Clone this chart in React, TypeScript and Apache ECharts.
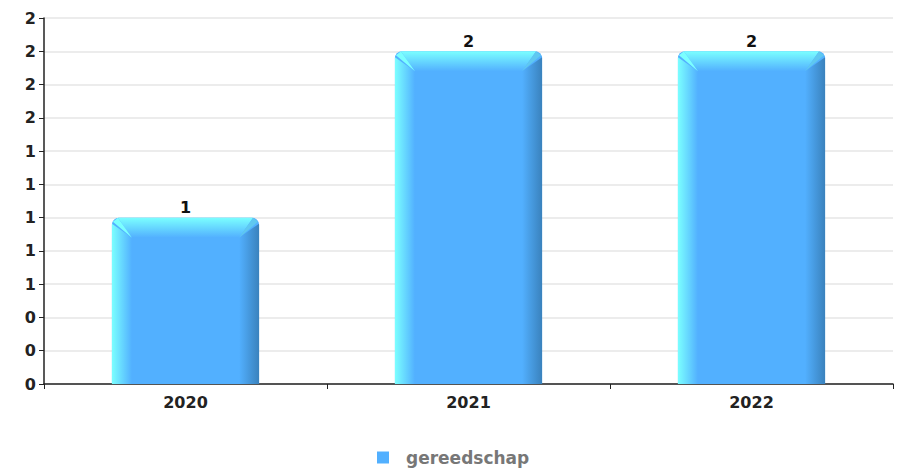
import React, { useEffect, useRef } from "react";
import * as echarts from "echarts";

const categories = ["2020", "2021", "2022"];
const values = [1, 2, 2];
const seriesName = "gereedschap";

export default function App() {
  const ref = useRef<HTMLDivElement>(null);
  useEffect(() => {
    document.body.style.margin = "0";
    const chart = echarts.init(ref.current!, null, { renderer: "svg" });
    const base = "#52b0ff";
    const cyan = "#7bffff";
    const dark = "#3a82bd";
    const font = "DejaVu Sans";
    chart.setOption({
      animation: false,
      grid: { left: 44, right: 8, top: 18, bottom: 87 },
      legend: {
        bottom: 0,
        left: 372,
        data: [{ name: seriesName, icon: "rect" }],
        itemWidth: 12,
        itemHeight: 12,
        itemGap: 8,
        textStyle: {
          fontFamily: font,
          fontWeight: "bold",
          fontSize: 17,
          color: "#777",
          padding: [0, 0, 0, 12],
        },
      },
      xAxis: {
        type: "category",
        data: categories,
        boundaryGap: true,
        axisLine: { lineStyle: { color: "#222", width: 1.5 } },
        axisTick: { show: true, length: 5, lineStyle: { color: "#222" } },
        axisLabel: { fontFamily: font, fontWeight: "bold", fontSize: 16, color: "#222", margin: 10 },
        splitLine: { show: false },
      },
      yAxis: {
        type: "value",
        min: 0,
        max: 2.2,
        interval: 0.2,
        axisLine: { show: true, lineStyle: { color: "#222", width: 1.5 } },
        axisTick: { show: true, length: 5, lineStyle: { color: "#222" } },
        axisLabel: {
          fontFamily: font,
          fontWeight: "bold",
          fontSize: 16,
          color: "#222",
          margin: 8,
          formatter: (v: number) => String(Math.round(v)),
        },
        splitLine: { show: true, lineStyle: { color: "#e6e6e6", width: 1.5 } },
      },
      series: [
        {
          type: "custom",
          name: seriesName,
          itemStyle: { color: base },
          data: values.map((v, i) => [i, v]),
          encode: { x: 0, y: 1 },
          renderItem: (params: any, api: any) => {
            const idx = api.value(0);
            const val = api.value(1);
            const top = api.coord([idx, val]);
            const bot = api.coord([idx, 0]);
            const w = api.size([1, 0])[0] * 0.52;
            const x0 = top[0] - w / 2;
            const x1 = top[0] + w / 2;
            const y0 = top[1];
            const y1 = bot[1];
            const b = 20;
            return {
              type: "group",
              children: [
                {
                  type: "rect",
                  shape: { x: x0, y: y0, width: w, height: y1 - y0, r: [7, 7, 0, 0] },
                  style: { fill: base },
                },
                {
                  type: "polygon",
                  shape: { points: [[x0, y0 + 6], [x0 + b, y0 + b], [x0 + b, y1], [x0, y1]] },
                  style: {
                    fill: new echarts.graphic.LinearGradient(0, 0, 1, 0, [
                      { offset: 0, color: cyan },
                      { offset: 1, color: base },
                    ]),
                  },
                },
                {
                  type: "polygon",
                  shape: { points: [[x1, y0 + 6], [x1, y1], [x1 - b, y1], [x1 - b, y0 + b]] },
                  style: {
                    fill: new echarts.graphic.LinearGradient(0, 0, 1, 0, [
                      { offset: 0, color: base },
                      { offset: 1, color: dark },
                    ]),
                  },
                },
                {
                  type: "polygon",
                  shape: { points: [[x0 + 6, y0], [x1 - 6, y0], [x1 - b, y0 + b], [x0 + b, y0 + b]] },
                  style: {
                    fill: new echarts.graphic.LinearGradient(0, 0, 0, 1, [
                      { offset: 0, color: cyan },
                      { offset: 1, color: base },
                    ]),
                  },
                },
                {
                  type: "polygon",
                  shape: { points: [[x0 + 1, y0 + 4], [x0 + 6, y0], [x0 + b, y0 + b]] },
                  style: { fill: cyan },
                },
                {
                  type: "polygon",
                  shape: { points: [[x1 - 6, y0], [x1 - 1, y0 + 4], [x1 - b, y0 + b]] },
                  style: { fill: "#5fc8f0" },
                },
                {
                  type: "text",
                  style: {
                    text: String(val),
                    x: top[0],
                    y: y0 - 2,
                    align: "center",
                    verticalAlign: "bottom",
                    fontFamily: font,
                    fontWeight: "bold",
                    fontSize: 16,
                    fill: "#111",
                  },
                },
              ],
            };
          },
        },
      ],
    });
    return () => chart.dispose();
  }, []);
  return <div ref={ref} style={{ width: 901, height: 471 }} />;
}
